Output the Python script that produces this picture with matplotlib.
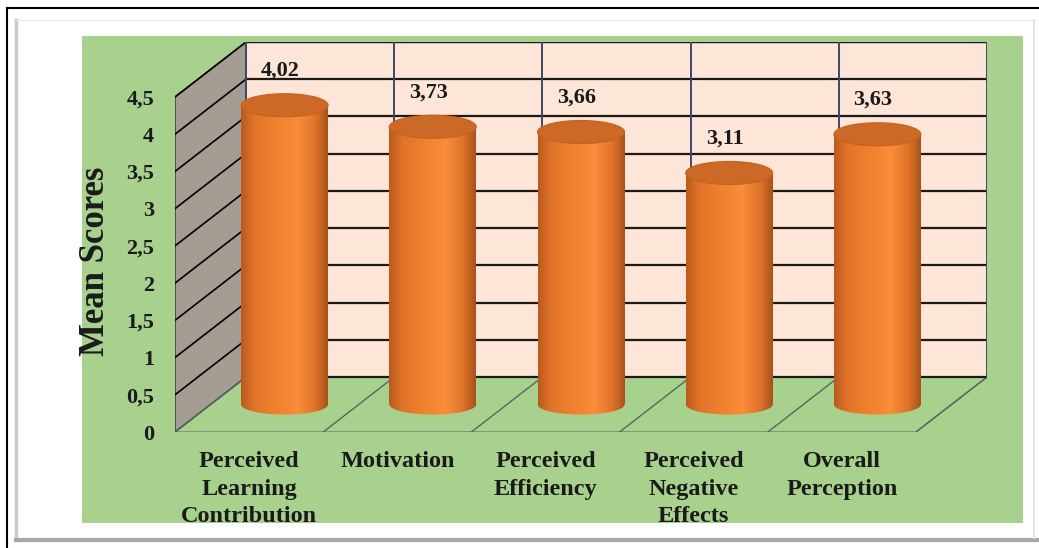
import numpy as np
import matplotlib
matplotlib.use('Agg')
import matplotlib.pyplot as plt
from matplotlib.patches import Rectangle, Polygon, Ellipse
from matplotlib.colors import LinearSegmentedColormap
from matplotlib.lines import Line2D

# data
categories = ["Perceived\nLearning\nContribution", "Motivation", "Perceived\nEfficiency",
              "Perceived\nNegative\nEffects", "Overall\nPerception"]
means = [4.02, 3.73, 3.66, 3.11, 3.63]
value_labels = ["4,02", "3,73", "3,66", "3,11", "3,63"]
yticks = [0, 0.5, 1, 1.5, 2, 2.5, 3, 3.5, 4, 4.5]
ytick_labels = ["0", "0,5", "1", "1,5", "2", "2,5", "3", "3,5", "4", "4,5"]

plt.rcParams['font.family'] = ['Liberation Serif', 'DejaVu Serif']
plt.rcParams['font.weight'] = 'bold'

W, H = 1039, 548
fig = plt.figure(figsize=(W / 100, H / 100), dpi=100)
fig.patch.set_facecolor('white')

def fx(px):
    return px / W

def fy(py):
    return 1 - py / H

# page frame and green chart area
fig.add_artist(Line2D([fx(7), fx(1039)], [fy(8), fy(8)], color='black', lw=1.5))
fig.add_artist(Line2D([fx(7), fx(7)], [fy(8), fy(548)], color='black', lw=1.5))
fig.add_artist(Line2D([fx(16), fx(16)], [fy(20), fy(540)], color='#c8c8c8', lw=2.5))
fig.add_artist(Line2D([fx(16), fx(1039)], [fy(540), fy(540)], color='#a8a8a8', lw=3))
fig.add_artist(Line2D([fx(16), fx(1036)], [fy(20), fy(20)], color='#ececec', lw=1))
fig.add_artist(Line2D([fx(1034), fx(1034)], [fy(20), fy(538)], color='#e4e4e4', lw=1.5))
fig.add_artist(Rectangle((fx(82), fy(523)), fx(1023) - fx(82), fy(36) - fy(523),
                         transform=fig.transFigure, facecolor='#a9d18e', edgecolor='none', zorder=0))

# 3d depth offset in data units
n = len(categories)
dx = 0.479
dy = 0.739
ymax = 4.5

ax = fig.add_axes([fx(175), fy(432), fx(987) - fx(175), fy(42) - fy(432)])
ax.set_facecolor('none')
for s in ax.spines.values():
    s.set_visible(False)

x0 = -0.5
x1 = n - 0.5

# floor
floor = Polygon([(x0, 0), (x1, 0), (x1 + dx, dy), (x0 + dx, dy)], closed=True,
                facecolor='#a9d18e', edgecolor='#6f7f6f', lw=1, zorder=1)
ax.add_patch(floor)
for k in range(n + 1):
    ax.plot([x0 + k, x0 + k + dx], [0, dy], color='#4f6a5f', lw=1, zorder=1.5)

# side wall
side = Polygon([(x0, 0), (x0 + dx, dy), (x0 + dx, ymax + dy), (x0, ymax)], closed=True,
               facecolor='#a59c94', edgecolor='#303030', lw=1, zorder=1)
ax.add_patch(side)
for t in yticks[1:]:
    ax.plot([x0, x0 + dx], [t, t + dy], color='black', lw=1.2, zorder=1.6)

# back wall
back = Rectangle((x0 + dx, dy), n, ymax, facecolor='#fde5d7', edgecolor='none', zorder=1)
ax.add_patch(back)
for t in yticks + [ymax]:
    ax.plot([x0 + dx, x1 + dx], [t + dy, t + dy], color='#1a1a1a', lw=1.6, zorder=1.7)
for k in range(n + 1):
    ax.plot([x0 + dx + k, x0 + dx + k], [dy, ymax + dy], color='#3c4866', lw=1.4, zorder=1.7)

# cylinders
cmap = LinearSegmentedColormap.from_list('cyl', [
    (0.0, '#b85a1c'), (0.15, '#e2742a'), (0.45, '#f2832f'),
    (0.65, '#fb8d3b'), (0.85, '#e0742a'), (1.0, '#a9521a')])
grad = np.linspace(0, 1, 256).reshape(1, -1)
bw = 0.587
eh_top = 0.31
eh_bot = 0.27
for i, v in enumerate(means):
    xc = i + dx / 2
    base = dy / 2
    top = v + dy / 2
    body = Rectangle((xc - bw / 2, base), bw, top - base, facecolor='none', edgecolor='none')
    ax.add_patch(body)
    im = ax.imshow(grad, cmap=cmap, aspect='auto', extent=(xc - bw / 2, xc + bw / 2, base - eh_bot, top),
                   zorder=3, interpolation='bilinear')
    im.set_clip_path(body)
    bottom = Ellipse((xc, base), bw, eh_bot, facecolor='none', edgecolor='none')
    ax.add_patch(bottom)
    im2 = ax.imshow(grad, cmap=cmap, aspect='auto', extent=(xc - bw / 2, xc + bw / 2, base - eh_bot, top),
                    zorder=3, interpolation='bilinear')
    im2.set_clip_path(bottom)
    ax.add_patch(Ellipse((xc, top), bw, eh_top, facecolor='#cd6926', edgecolor='#c4621f', lw=0.8, zorder=4))
    ax.text(xc - 0.03, top + 0.46, value_labels[i], ha='center', va='center',
            fontsize=16, fontweight='bold', color='#1a1a1a', zorder=5)

ax.set_xlim(x0, x1 + dx)
ax.set_ylim(0, ymax + dy)
ax.set_yticks(yticks)
ax.set_yticklabels(ytick_labels)
ax.set_xticks(range(n))
ax.set_xticklabels(categories, linespacing=1.4)
ax.tick_params(axis='y', length=0, pad=15, labelsize=16)
ax.tick_params(axis='x', length=0, pad=14, labelsize=17.5)
for lab in ax.get_xticklabels() + ax.get_yticklabels():
    lab.set_fontweight('bold')
    lab.set_color('#1a1a1a')

fig.text(fx(95), fy(261), "Mean Scores", rotation=90, ha='center', va='center',
         fontsize=25, fontweight='bold', color='#1a1a1a')

fig.savefig('out.png', dpi=100)
